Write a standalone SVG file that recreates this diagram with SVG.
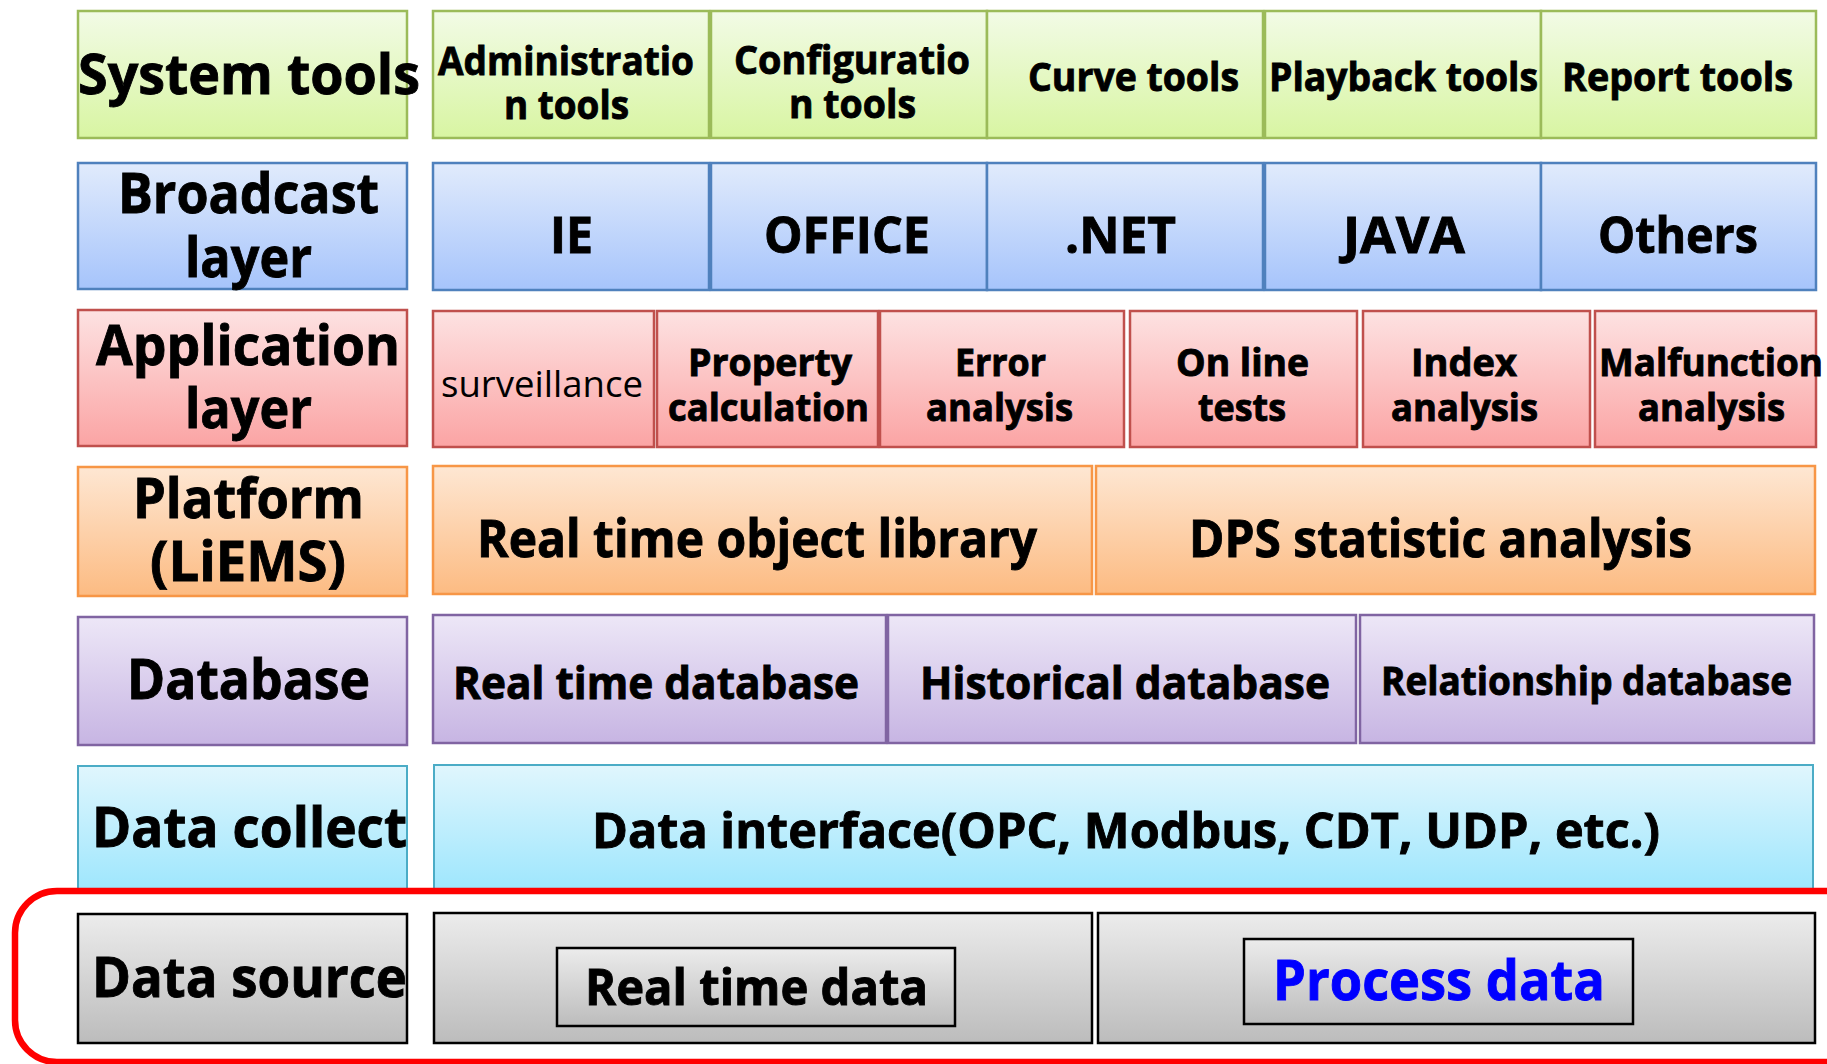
<svg xmlns="http://www.w3.org/2000/svg" width="1827" height="1064" viewBox="0 0 1827 1064">
<defs>
<linearGradient id="gGreen" x1="0" y1="0" x2="0" y2="1"><stop offset="0" stop-color="#f2fbe6"/><stop offset="1" stop-color="#d8f5a2"/></linearGradient>
<linearGradient id="gBlue" x1="0" y1="0" x2="0" y2="1"><stop offset="0" stop-color="#e1ebfc"/><stop offset="1" stop-color="#a6c4fb"/></linearGradient>
<linearGradient id="gRed" x1="0" y1="0" x2="0" y2="1"><stop offset="0" stop-color="#fde2e2"/><stop offset="1" stop-color="#fba4a4"/></linearGradient>
<linearGradient id="gOrange" x1="0" y1="0" x2="0" y2="1"><stop offset="0" stop-color="#fee7d3"/><stop offset="1" stop-color="#fcbb82"/></linearGradient>
<linearGradient id="gPurple" x1="0" y1="0" x2="0" y2="1"><stop offset="0" stop-color="#ede7f7"/><stop offset="1" stop-color="#c7b5e3"/></linearGradient>
<linearGradient id="gCyan" x1="0" y1="0" x2="0" y2="1"><stop offset="0" stop-color="#e0f6fd"/><stop offset="1" stop-color="#9de6fd"/></linearGradient>
<linearGradient id="gGray" x1="0" y1="0" x2="0" y2="1"><stop offset="0" stop-color="#ececec"/><stop offset="1" stop-color="#bcbcbc"/></linearGradient>
</defs>
<style>
.green{fill:url(#gGreen);stroke:#9bbb59;stroke-width:2.5}
.blue{fill:url(#gBlue);stroke:#4f81bd;stroke-width:2.5}
.red{fill:url(#gRed);stroke:#c0504d;stroke-width:2.5}
.orange{fill:url(#gOrange);stroke:#f79646;stroke-width:2.5}
.purple{fill:url(#gPurple);stroke:#8064a2;stroke-width:2.5}
.cyan{fill:url(#gCyan);stroke:#4bacc6;stroke-width:2}
.gray{fill:url(#gGray);stroke:#000;stroke-width:2.5}
.hl{fill:none;stroke:#ff0000;stroke-width:6.5}
text{font-family:"Open Sans","Noto Sans","Liberation Sans",sans-serif;font-weight:bold;fill:#000;stroke:#000;stroke-width:0.9}
.t40{font-size:40px}
.t38{font-size:37px}
.t50{font-size:50px}
.t56{font-size:56px}
.t52{font-size:52px}
.t45{font-size:45px}
.t41{font-size:40px}
.t48{font-size:49px}
.norm{font-weight:normal;font-size:36px;stroke:none}
.blueText{fill:#0000ff;stroke:#0000ff}
</style>

<!-- Row 1: System tools -->
<g id="system-tools"><rect class="green" x="78" y="11" width="329" height="127"/><text class="t56" x="78" y="94" textLength="342" lengthAdjust="spacingAndGlyphs">System tools</text></g>
<g id="administration-tools"><rect class="green" x="433" y="11" width="276" height="127"/><text class="t40" x="438" y="75" textLength="256" lengthAdjust="spacingAndGlyphs">Administratio</text><text class="t40" x="504" y="119" textLength="125" lengthAdjust="spacingAndGlyphs">n tools</text></g>
<g id="configuration-tools"><rect class="green" x="711" y="11" width="276" height="127"/><text class="t40" x="734" y="74" textLength="236" lengthAdjust="spacingAndGlyphs">Configuratio</text><text class="t40" x="789" y="118" textLength="127" lengthAdjust="spacingAndGlyphs">n tools</text></g>
<g id="curve-tools"><rect class="green" x="987" y="11" width="276" height="127"/><text class="t40" x="1028" y="91" textLength="211" lengthAdjust="spacingAndGlyphs">Curve tools</text></g>
<g id="playback-tools"><rect class="green" x="1265" y="11" width="276" height="127"/><text class="t40" x="1269" y="91" textLength="269" lengthAdjust="spacingAndGlyphs">Playback tools</text></g>
<g id="report-tools"><rect class="green" x="1541" y="11" width="275" height="127"/><text class="t40" x="1562" y="91" textLength="231" lengthAdjust="spacingAndGlyphs">Report tools</text></g>

<!-- Row 2: Broadcast layer -->
<g id="broadcast-layer"><rect class="blue" x="78" y="163" width="329" height="126"/><text class="t56" x="118" y="213" textLength="261" lengthAdjust="spacingAndGlyphs">Broadcast</text><text class="t56" x="185" y="277" textLength="127" lengthAdjust="spacingAndGlyphs">layer</text></g>
<g id="ie"><rect class="blue" x="433" y="163" width="276" height="127"/><text class="t50" x="550" y="253" textLength="43" lengthAdjust="spacingAndGlyphs">IE</text></g>
<g id="office"><rect class="blue" x="711" y="163" width="276" height="127"/><text class="t50" x="764" y="253" textLength="166" lengthAdjust="spacingAndGlyphs">OFFICE</text></g>
<g id="dotnet"><rect class="blue" x="987" y="163" width="276" height="127"/><text class="t50" x="1065" y="253" textLength="111" lengthAdjust="spacingAndGlyphs">.NET</text></g>
<g id="java"><rect class="blue" x="1265" y="163" width="276" height="127"/><text class="t50" x="1343" y="253" textLength="122" lengthAdjust="spacingAndGlyphs">JAVA</text></g>
<g id="others"><rect class="blue" x="1541" y="163" width="275" height="127"/><text class="t50" x="1598" y="253" textLength="160" lengthAdjust="spacingAndGlyphs">Others</text></g>

<!-- Row 3: Application layer -->
<g id="application-layer"><rect class="red" x="78" y="310" width="329" height="136"/><text class="t56" x="96" y="365" textLength="304" lengthAdjust="spacingAndGlyphs">Application</text><text class="t56" x="185" y="428" textLength="127" lengthAdjust="spacingAndGlyphs">layer</text></g>
<g id="surveillance"><rect class="red" x="433" y="311" width="221" height="136"/><text class="norm" x="441" y="397" textLength="202" lengthAdjust="spacingAndGlyphs">surveillance</text></g>
<g id="property-calculation"><rect class="red" x="657" y="311" width="221" height="136"/><text class="t38" x="688" y="376" textLength="164" lengthAdjust="spacingAndGlyphs">Property</text><text class="t38" x="668" y="421" textLength="201" lengthAdjust="spacingAndGlyphs">calculation</text></g>
<g id="error-analysis"><rect class="red" x="880" y="311" width="244" height="136"/><text class="t38" x="955" y="376" textLength="91" lengthAdjust="spacingAndGlyphs">Error</text><text class="t38" x="926" y="421" textLength="147" lengthAdjust="spacingAndGlyphs">analysis</text></g>
<g id="online-tests"><rect class="red" x="1130" y="311" width="227" height="136"/><text class="t38" x="1176" y="376" textLength="133" lengthAdjust="spacingAndGlyphs">On line</text><text class="t38" x="1198" y="421" textLength="88" lengthAdjust="spacingAndGlyphs">tests</text></g>
<g id="index-analysis"><rect class="red" x="1363" y="311" width="227" height="136"/><text class="t38" x="1411" y="376" textLength="106" lengthAdjust="spacingAndGlyphs">Index</text><text class="t38" x="1391" y="421" textLength="147" lengthAdjust="spacingAndGlyphs">analysis</text></g>
<g id="malfunction-analysis"><rect class="red" x="1595" y="311" width="221" height="136"/><text class="t38" x="1599" y="376" textLength="224" lengthAdjust="spacingAndGlyphs">Malfunction</text><text class="t38" x="1638" y="421" textLength="147" lengthAdjust="spacingAndGlyphs">analysis</text></g>

<!-- Row 4: Platform -->
<g id="platform"><rect class="orange" x="78" y="467" width="329" height="129"/><text class="t56" x="133" y="518" textLength="231" lengthAdjust="spacingAndGlyphs">Platform</text><text class="t56" x="150" y="581" textLength="196" lengthAdjust="spacingAndGlyphs">(LiEMS)</text></g>
<g id="real-time-object-library"><rect class="orange" x="433" y="466" width="659" height="128"/><text class="t52" x="477" y="557" textLength="560" lengthAdjust="spacingAndGlyphs">Real time object library</text></g>
<g id="dps-statistic-analysis"><rect class="orange" x="1096" y="466" width="719" height="128"/><text class="t52" x="1189" y="557" textLength="503" lengthAdjust="spacingAndGlyphs">DPS statistic analysis</text></g>

<!-- Row 5: Database -->
<g id="database"><rect class="purple" x="78" y="617" width="329" height="128"/><text class="t56" x="127" y="699" textLength="243" lengthAdjust="spacingAndGlyphs">Database</text></g>
<g id="real-time-database"><rect class="purple" x="433" y="615" width="453" height="128"/><text class="t45" x="453" y="699" textLength="406" lengthAdjust="spacingAndGlyphs">Real time database</text></g>
<g id="historical-database"><rect class="purple" x="888" y="615" width="468" height="128"/><text class="t45" x="920" y="699" textLength="410" lengthAdjust="spacingAndGlyphs">Historical database</text></g>
<g id="relationship-database"><rect class="purple" x="1360" y="615" width="454" height="128"/><text class="t41" x="1381" y="695" textLength="411" lengthAdjust="spacingAndGlyphs">Relationship database</text></g>

<!-- Row 6: Data collect -->
<g id="data-collect"><rect class="cyan" x="78" y="766" width="329" height="126"/><text class="t56" x="92" y="847" textLength="315" lengthAdjust="spacingAndGlyphs">Data collect</text></g>
<g id="data-interface"><rect class="cyan" x="434" y="765" width="1379" height="127"/><text class="t48" x="592" y="848" textLength="1068" lengthAdjust="spacingAndGlyphs">Data interface(OPC, Modbus, CDT, UDP, etc.)</text></g>

<!-- Row 7: Data source -->
<g id="data-source"><rect class="gray" x="78" y="914" width="329" height="129"/><text class="t56" x="92" y="997" textLength="315" lengthAdjust="spacingAndGlyphs">Data source</text></g>
<g id="real-time-data"><rect class="gray" x="434" y="913" width="658" height="130"/><rect class="gray" x="557" y="948" width="398" height="78" stroke-width="2"/><text class="t50" x="585" y="1005" textLength="343" lengthAdjust="spacingAndGlyphs">Real time data</text></g>
<g id="process-data"><rect class="gray" x="1098" y="913" width="717" height="130"/><rect class="gray" x="1244" y="939" width="389" height="85" stroke-width="2"/><text class="t56 blueText" x="1273" y="1000" textLength="332" lengthAdjust="spacingAndGlyphs">Process data</text></g>

<!-- Highlight frame -->
<g id="highlight"><rect class="hl" x="15" y="891" width="1880" height="171" rx="42" ry="42"/></g>
</svg>
